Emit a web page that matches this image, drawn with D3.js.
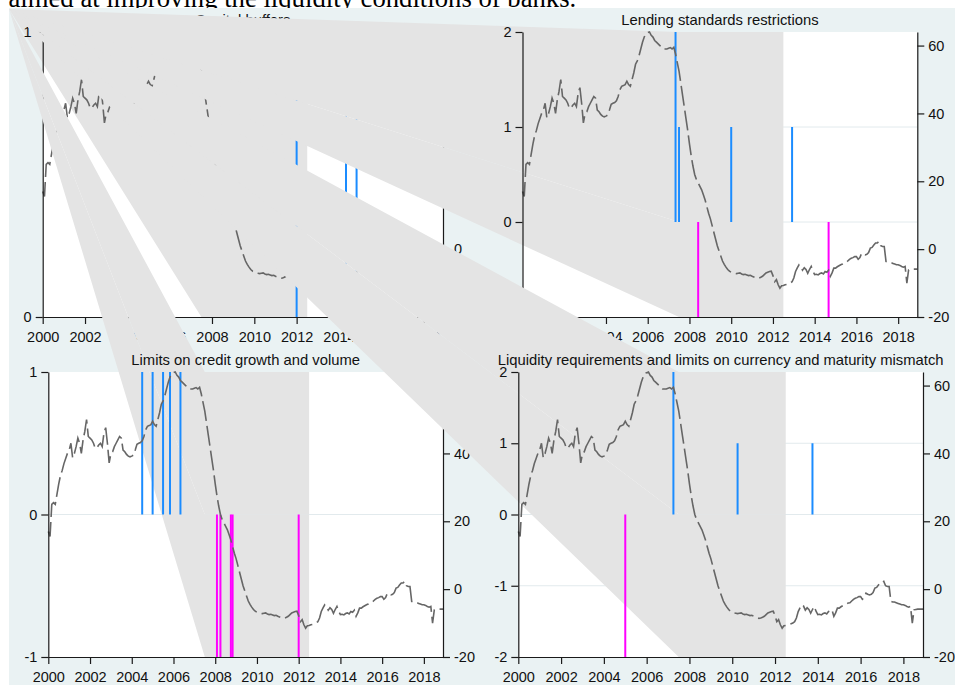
<!DOCTYPE html>
<html>
<head>
<meta charset="utf-8">
<script src="https://cdn.jsdelivr.net/npm/d3@7"></script>
<style>
  html, body { margin: 0; padding: 0; background: #ffffff; overflow: hidden; }
  svg { display: block; }
</style>
</head>
<body>
<svg id="fig" width="955" height="685"></svg>
<script>
// Monthly credit growth (right axis, %), Jan 2000 - Dec 2018
const creditGrowth = [
  17, 15.5, 25, 25.5, 25, 28, 31, 33.5, 35, 37, 38.5, 40,            // 2000
  41, 43, 38.7, 40, 42, 44.5, 43, 40, 44, 46.5, 50, 45,              // 2001
  44.5, 44, 43, 41.5, 41.7, 42.5, 43, 42, 46, 47.6, 43, 37.2,        // 2002
  40, 40.5, 42, 43, 44, 45, 44.5, 41, 40.5, 39.7, 39.2, 39,          // 2003
  39.2, 39.5, 41, 42.7, 43, 43.2, 43.7, 45, 47, 48, 48.2, 48.5,      // 2004
  49.5, 48.5, 48, 50, 52, 54.5, 55.5, 57, 59, 61, 62.5, 63.6,        // 2005
  63.8, 64, 63, 62.5, 61.5, 61, 60.5, 60, 59.5, 59, 59, 59,          // 2006
  59.2, 59.4, 59, 59.5, 57.5, 55, 52.5, 49, 45.5, 42, 38.5, 35,      // 2007
  31, 27.5, 24.5, 22, 20.5, 19.5, 18.5, 17.5, 16, 14.5, 12.5, 10.6,  // 2008
  9, 7, 5, 3, 1, -0.5, -2, -3.5, -4.5, -5.3, -6, -6.5,               // 2009
  -6.8, -7, -7.1, -7.2, -7.1, -7, -7.3, -7.5, -7.4, -7.6, -7.8, -7.7, // 2010
  -8, -8.2, -8.4, -8.6, -8.5, -8.3, -8, -7.5, -7, -6.8, -6.6, -6.5,   // 2011
  -7.8, -9.6, -9, -10.5, -11.5, -10.8, -10.7, -10.5, -10.4, -10.2, -10, -9.6, // 2012
  -8.5, -6.6, -5.5, -4.6, -5, -6.2, -5.5, -6, -7.1, -6, -5.1, -6.5,   // 2013
  -7.5, -7.4, -7.6, -7.2, -7, -7.3, -6.6, -6.8, -6.2, -8, -7, -5.6,   // 2014
  -5.6, -5.2, -4.9, -4.6, -4.4, -4.1, -4, -3.5, -3, -2.7, -2.5, -2.2, // 2015
  -2.2, -3, -2.5, -1.2, -1.5, -1.7, -1.5, -1, 0.3, 0.5, 1.2, 1.8,     // 2016
  1.8, 2.3, 1, 0.8, 0.8, -3.6, -3.8, -3.8, -4, -4.2, -4.4, -4.6,      // 2017
  -4.6, -4.8, -5.1, -5.3, -5.1, -10, -6.1, -6, -5.9, -5.9, -5.9, -5.9 // 2018
];
const months = creditGrowth.map((_, i) => 2000 + i / 12);

// Crisis window shaded in every panel
const crisisStart = 2007.5;
const crisisEnd = 2012.5;

const yearTicks = [2000, 2002, 2004, 2006, 2008, 2010, 2012, 2014, 2016, 2018];
const rightTicks = [-20, 0, 20, 40, 60];
const rightDomain = [-20, 64];

const panelTitles = [
  "Capital buffers",
  "Lending standards restrictions",
  "Limits on credit growth and volume",
  "Liquidity requirements and limits on currency and maturity mismatch"
];

// Policy actions: dates (decimal years) and signed intensity (left axis)
const bufferDates = [2012.0, 2014.333, 2014.833];
const bufferValues = [1, 1, 1];
const lendingDates = [2007.333, 2007.5, 2010.0, 2012.917, 2008.417, 2014.667];
const lendingValues = [2, 1, 1, 1, -1, -1];
const creditLimitDates = [2004.5, 2005.0, 2005.5, 2005.833, 2006.333, 2008.083, 2008.25, 2008.75, 2008.833, 2012.0];
const creditLimitValues = [1, 1, 1, 1, 1, -1, -1, -1, -1, -1];
const liquidityDates = [2007.25, 2010.25, 2013.75, 2005.0];
const liquidityValues = [2, 1, 1, -2];

const leftTicks = [[0, 1], [-1, 0, 1, 2], [-1, 0, 1], [-2, -1, 0, 1, 2]];
const leftDomains = [[0, 1], [-1, 2], [-1, 1], [-2, 2]];

const svg = d3.select("#fig");
const FONT = "'Liberation Sans', Arial, Helvetica, sans-serif";

// Body text of the page the figure sits under
svg.append("text")
  .attr("x", 8.5).attr("y", 6.5)
  .attr("font-family", "'Liberation Serif', 'Times New Roman', serif")
  .attr("font-size", 26.7)
  .attr("fill", "#000")
  .text("aimed at improving the liquidity conditions of banks.");

// Graph region
const origin = [9, 9];
svg.append("rect")
  .attr("x", 9).attr("y", 8)
  .attr("width", 955 - 9).attr("height", 685 - 8)
  .attr("fill", "#eaf2f3");

const panels = [
  { x0: 42.7, x1: 443.0, y0: 32, y1: 317, dates: bufferDates, values: bufferValues },
  { x0: 522.5, x1: 917.3, y0: 32, y1: 317, dates: lendingDates, values: lendingValues },
  { x0: 48.3, x1: 443.0, y0: 372, y1: 657, dates: creditLimitDates, values: creditLimitValues },
  { x0: 518.3, x1: 923.0, y0: 372, y1: 657, dates: liquidityDates, values: liquidityValues }
];

const BLUE = "#1b8cff", MAGENTA = "#ff00ff";

function styleAxis(g) {
  g.select(".domain").attr("stroke", "#1a1a1a").attr("stroke-width", 1.2);
  g.selectAll(".tick line").attr("stroke", "#1a1a1a").attr("stroke-width", 1.2);
  g.selectAll(".tick text").attr("fill", "#111").attr("font-size", 14.5).attr("font-family", FONT);
  g.attr("font-family", FONT).attr("font-size", 14.5);
}

panels.forEach((p, k) => {
  const g = svg.append("g");
  const x = d3.scaleLinear().domain([2000, 2018 + 11 / 12]).range([p.x0, p.x1]);
  const yL = d3.scaleLinear().domain(leftDomains[k]).range([p.y1, p.y0]);
  const yR = d3.scaleLinear().domain(rightDomain).range([p.y1, p.y0]);

  // plot region
  g.append("rect")
    .attr("x", p.x0).attr("y", p.y0)
    .attr("width", p.x1 - p.x0).attr("height", p.y1 - p.y0)
    .attr("fill", "#ffffff");

  // horizontal grid on the left-axis labels
  g.selectAll(".grid")
    .data(leftTicks[k].filter(v => yL(v) > p.y0 + 1 && yL(v) < p.y1 - 1))
    .join("line")
    .attr("x1", p.x0).attr("x2", p.x1)
    .attr("y1", d => yL(d)).attr("y2", d => yL(d))
    .attr("stroke", "#e2eaed").attr("stroke-width", 1);

  // crisis shading: one area above and one below the zero line
  const xs = x(crisisStart), xe = x(crisisEnd), yz = yL(0);
  [[p.y0, yz], [yz, p.y1]].forEach(([a, b]) => {
    if (b - a < 0.5) return;
    const pts = [origin, [xs, a], [xe, a], [xe, b], [xs, b]];
    g.append("path")
      .attr("d", d3.line()(pts) + "Z")
      .attr("fill", "#e4e4e4");
  });

  // policy action spikes
  g.selectAll(".spike")
    .data(p.dates.map((d, i) => ({ t: d, v: p.values[i] })))
    .join("line")
    .attr("x1", d => x(d.t)).attr("x2", d => x(d.t))
    .attr("y1", yL(0)).attr("y2", d => yL(d.v))
    .attr("stroke", d => d.v > 0 ? BLUE : MAGENTA)
    .attr("stroke-width", 2);

  // credit growth on the right axis
  g.append("path")
    .datum(creditGrowth)
    .attr("d", d3.line().x((d, i) => x(months[i])).y(d => yR(d)))
    .attr("fill", "none")
    .attr("stroke", "#666666")
    .attr("stroke-width", 1.6)
    .attr("stroke-dasharray", "20 5");

  // axes
  const fmt = d => String(d);
  g.append("g").attr("transform", `translate(${p.x0},0)`)
    .call(d3.axisLeft(yL).tickValues(leftTicks[k]).tickFormat(fmt).tickSize(7).tickSizeOuter(0).tickPadding(4))
    .call(styleAxis);
  g.append("g").attr("transform", `translate(${p.x1},0)`)
    .call(d3.axisRight(yR).tickValues(rightTicks).tickFormat(fmt).tickSize(7).tickSizeOuter(0).tickPadding(4))
    .call(styleAxis);
  g.append("g").attr("transform", `translate(0,${p.y1})`)
    .call(d3.axisBottom(x).tickValues(yearTicks).tickFormat(fmt).tickSize(7).tickSizeOuter(0).tickPadding(7.7))
    .call(styleAxis);

  // panel title
  g.append("text")
    .attr("x", (p.x0 + p.x1) / 2).attr("y", p.y0 - 7.4)
    .attr("text-anchor", "middle")
    .attr("font-family", FONT).attr("font-size", 14.8)
    .attr("fill", "#111")
    .text(panelTitles[k]);
});
</script>
</body>
</html>
